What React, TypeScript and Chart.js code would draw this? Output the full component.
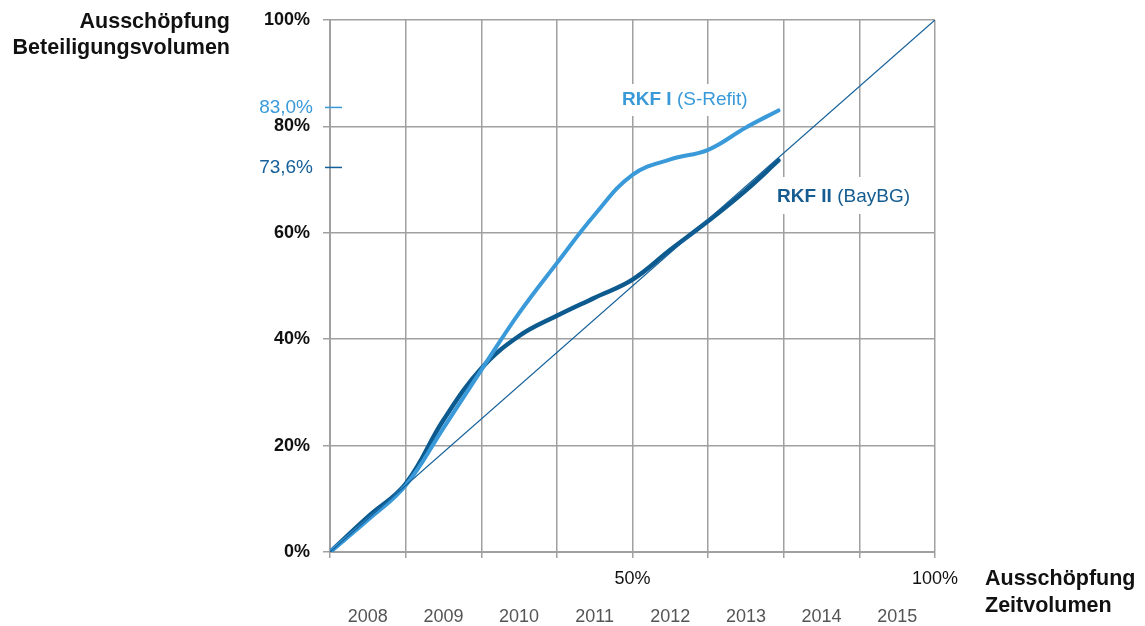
import React, { useEffect, useRef } from "react";
import { Chart, registerables } from "chart.js";

Chart.register(...registerables);

// Share of time volume used, in years since start (0 = start of 2008, 8 = end of 2015)
const timeSteps = [0, 0.5, 1, 1.5, 2, 2.5, 3, 3.5, 4, 4.5, 5, 5.5, 5.93];
// RKF I (S-Refit): share of investment volume used, in percent
const rkf1Values = [0, 6.0, 12.5, 23.3, 34.2, 44.9, 54.3, 63.4, 70.9, 73.8, 75.6, 79.8, 83.0];
// RKF II (BayBG): share of investment volume used, in percent
const rkf2Values = [0, 6.6, 12.8, 24.8, 34.5, 40.6, 44.4, 47.8, 51.2, 56.8, 62.2, 68.0, 73.6];
// Even-pace reference line
const evenPaceX = [0, 8];
const evenPaceY = [0, 100];

const years = ["2008", "2009", "2010", "2011", "2012", "2013", "2014", "2015"];
const yTicks = [0, 20, 40, 60, 80, 100];
const xTickLabels: Record<number, string> = { 4: "50%", 8: "100%" };

const endLabels = [
  { value: 83.0, text: "83,0%", color: "#3a9ad9", dy: -3 },
  { value: 73.6, text: "73,6%", color: "#15609a", dy: 7 },
];

const LIGHT = "#3a9ad9";
const DARK = "#0d5a8f";
const GRID = "#a0a0a0";
const FONT = "'Liberation Sans', Arial, sans-serif";

const annotations = {
  id: "annotations",
  beforeDatasetsDraw(chart: any) {
    const ctx = chart.ctx;
    ctx.save();
    ctx.fillStyle = "#ffffff";
    // white panels behind the series names
    ctx.fillRect(614, 84, 142, 32);
    ctx.fillRect(769, 177, 148, 37);
    ctx.restore();
  },
  afterDraw(chart: any) {
    const ctx = chart.ctx;
    const y = chart.scales.y;
    const area = chart.chartArea;
    ctx.save();

    // end value markers on the y axis
    ctx.font = `19px ${FONT}`;
    ctx.textAlign = "right";
    ctx.textBaseline = "middle";
    for (const m of endLabels) {
      const py = y.getPixelForValue(m.value) + m.dy;
      ctx.fillStyle = m.color;
      ctx.fillText(m.text, area.left - 17, py);
      ctx.strokeStyle = m.color;
      ctx.lineWidth = 1.5;
      ctx.beginPath();
      ctx.moveTo(area.left - 5, py);
      ctx.lineTo(area.left + 12, py);
      ctx.stroke();
    }

    // series names
    const drawName = (x: number, py: number, bold: string, rest: string, color: string) => {
      ctx.fillStyle = color;
      ctx.textAlign = "left";
      ctx.textBaseline = "middle";
      ctx.font = `bold 19px ${FONT}`;
      ctx.fillText(bold, x, py);
      const w = ctx.measureText(bold).width;
      ctx.font = `19px ${FONT}`;
      ctx.fillText(rest, x + w, py);
    };
    drawName(622, 100, "RKF I", " (S-Refit)", LIGHT);
    drawName(777, 197, "RKF II", " (BayBG)", "#155c91");

    // axis titles
    ctx.fillStyle = "#111111";
    ctx.font = `bold 21.5px ${FONT}`;
    ctx.textAlign = "right";
    ctx.textBaseline = "middle";
    ctx.fillText("Ausschöpfung", 230, 22);
    ctx.fillText("Beteiligungsvolumen", 230, 48);
    ctx.textAlign = "left";
    ctx.fillText("Ausschöpfung", 985, 579);
    ctx.fillText("Zeitvolumen", 985, 606);
    ctx.restore();
  },
};

export default function App() {
  const ref = useRef<HTMLCanvasElement | null>(null);

  useEffect(() => {
    if (!ref.current) return;
    const toPoints = (xs: number[], ys: number[]) => xs.map((x, i) => ({ x, y: ys[i] }));
    const chart = new Chart(ref.current, {
      type: "line",
      data: {
        datasets: [
          {
            label: "Gleichmäßig",
            data: toPoints(evenPaceX, evenPaceY),
            borderColor: "#14609a",
            borderWidth: 1.3,
            pointRadius: 0,
            tension: 0,
            xAxisID: "x",
          },
          {
            label: "RKF I (S-Refit)",
            data: toPoints(timeSteps, rkf1Values),
            borderColor: LIGHT,
            borderWidth: 4,
            pointRadius: 0,
            tension: 0.4,
            borderCapStyle: "round",
            xAxisID: "x",
          },
          {
            label: "RKF II (BayBG)",
            data: toPoints(timeSteps, rkf2Values),
            borderColor: DARK,
            borderWidth: 4.5,
            pointRadius: 0,
            tension: 0.4,
            borderCapStyle: "round",
            xAxisID: "x",
          },
        ],
      },
      options: {
        animation: false,
        responsive: false,
        maintainAspectRatio: false,
        layout: { padding: { left: 0, top: 20, right: 210, bottom: 0 } },
        plugins: { legend: { display: false }, tooltip: { enabled: false } },
        scales: {
          x: {
            type: "linear",
            position: "bottom",
            min: 0,
            max: 8,
            afterFit: (s: any) => {
              s.height = 40;
            },
            afterBuildTicks: (s: any) => {
              s.ticks = [0, 1, 2, 3, 4, 5, 6, 7, 8].map((v) => ({ value: v }));
            },
            grid: { color: GRID, lineWidth: 1.5, tickLength: 6 },
            border: { color: GRID, width: 2 },
            ticks: {
              autoSkip: false,
              maxRotation: 0,
              padding: 10,
              color: "#111111",
              font: { family: FONT, size: 18 },
              callback: (v: any) => xTickLabels[v as number] ?? "",
            },
          },
          years: {
            type: "category",
            labels: years,
            position: "bottom",
            offset: true,
            afterFit: (s: any) => {
              s.height = 34;
            },
            grid: { display: false },
            border: { display: false },
            ticks: {
              padding: 6,
              color: "#555555",
              font: { family: FONT, size: 18 },
            },
          },
          y: {
            min: 0,
            max: 100,
            afterFit: (s: any) => {
              s.width = 330;
              s.paddingTop = 0;
              s.paddingBottom = 0;
            },
            afterBuildTicks: (s: any) => {
              s.ticks = yTicks.map((v) => ({ value: v }));
            },
            grid: { color: GRID, lineWidth: 1.5, tickLength: 7 },
            border: { color: GRID, width: 2 },
            ticks: {
              padding: 13,
              color: "#111111",
              font: { family: FONT, size: 18, weight: "bold" },
              callback: (v: any) => `${v}%`,
            },
          },
        },
      },
      plugins: [annotations],
    } as any);
    return () => chart.destroy();
  }, []);

  return (
    <div style={{ position: "fixed", left: 0, top: 0, width: 1145, height: 626, background: "#fff" }}>
      <canvas ref={ref} width={1145} height={626} style={{ display: "block" }} />
    </div>
  );
}
